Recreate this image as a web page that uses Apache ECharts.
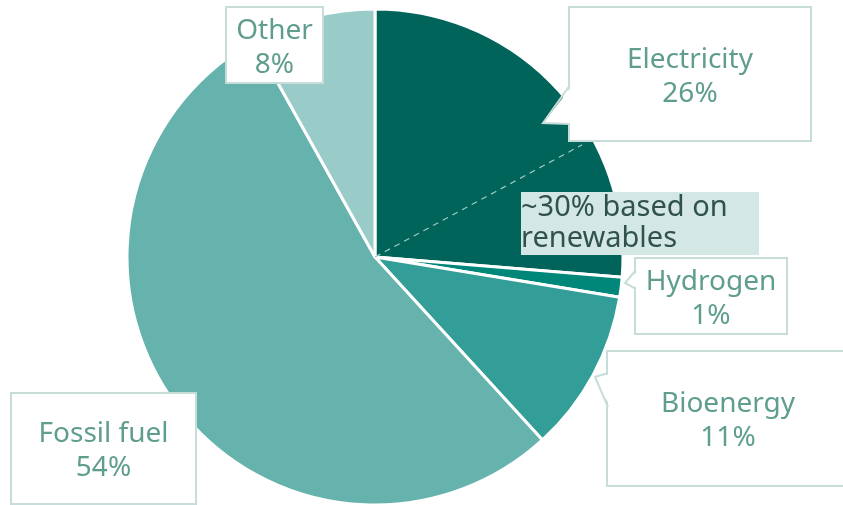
<!DOCTYPE html>
<html>
<head>
<meta charset="utf-8">
<script src="https://cdn.jsdelivr.net/npm/echarts@6/dist/echarts.min.js"></script>
<style>
  html, body { margin: 0; padding: 0; background: #fff; }
  #piechart { width: 843px; height: 505px; }
</style>
</head>
<body>
<div id="piechart"></div>
<script>
// data (clockwise from 12 o'clock)
const categories = ['Electricity', 'Hydrogen', 'Bioenergy', 'Fossil fuel', 'Other']
const shares = [26.3, 1.3, 10.6, 53.7, 8.1]
const sliceColors = ['#00645a', '#00877a', '#339e97', '#66b3ae', '#99ccc9']
const renewableShareOfElectricity = 0.35  // where the dashed split sits
const renewableNote = '~30% based on\nrenewables'

// label boxes: centre x, top y, width, height
const labelBoxes = [
  { cx: 690, top: 8, w: 240, h: 132 },
  { cx: 711, top: 259, w: 150, h: 74 },
  { cx: 728, top: 352, w: 240, h: 133 },
  { cx: 103.5, top: 394, w: 183, h: 109 },
  { cx: 274.5, top: 8, w: 95, h: 74 }
]
// callout pointers: [edge point 1, tip, edge point 2]
const pointers = [
  [[570, 85], [543, 123], [570, 124]],
  [[636, 270], [625, 283], [636, 289]],
  [[608, 373], [595, 377], [608, 407]]
]

const center = [375, 257]
const radius = 248
const lineH = 34
const boxBorder = '#c6ddd9'
const labelColor = '#5f9d8f'

let chart = null
const drawChart = () => {
  chart = echarts.init(document.getElementById('piechart'))

  // dashed split inside the Electricity slice
  const splitDeg = shares[0] / 100 * 360 * (1 - renewableShareOfElectricity)
  const rad = splitDeg * Math.PI / 180
  const endX = center[0] + radius * 0.95 * Math.sin(rad)
  const endY = center[1] - radius * 0.95 * Math.cos(rad)

  const pointerGraphics = []
  pointers.forEach(p => {
    pointerGraphics.push({
      type: 'polygon', z: 100,
      shape: { points: [[p[0][0] + 2, p[0][1] + 1], p[1], [p[2][0] + 2, p[2][1] - 1]] },
      style: { fill: '#fff', stroke: null }
    })
    pointerGraphics.push({
      type: 'polyline', z: 101,
      shape: { points: p },
      style: { stroke: boxBorder, lineWidth: 2, fill: null }
    })
  })

  chart.setOption({
    backgroundColor: '#fff',
    animation: false,
    color: sliceColors,
    graphic: [
      {
        type: 'line', z: 50,
        shape: { x1: center[0], y1: center[1], x2: endX, y2: endY },
        style: { stroke: '#9fcac3', lineWidth: 1.2, lineDash: [6, 5] }
      },
      {
        type: 'rect', z: 50,
        shape: { x: 521, y: 192, width: 238, height: 63 },
        style: { fill: '#d3e7e5' }
      },
      {
        type: 'text', z: 51,
        x: 521, y: 192,
        style: {
          text: renewableNote,
          fill: '#31524c',
          font: '29px "Noto Sans"',
          lineHeight: 31,
          padding: [0, 0, 0, 0]
        }
      }
    ].concat(pointerGraphics),
    series: [
      {
        type: 'pie',
        center: center,
        radius: radius,
        startAngle: 90,
        clockwise: true,
        avoidLabelOverlap: false,
        itemStyle: {
          borderColor: '#fff',
          borderWidth: 3
        },
        label: {
          show: true,
          position: 'inside',
          color: labelColor,
          fontFamily: 'Noto Sans',
          fontSize: 28,
          lineHeight: lineH,
          backgroundColor: '#fff',
          borderColor: boxBorder,
          borderWidth: 2,
          formatter: p => p.name + '\n' + Math.round(p.value) + '%'
        },
        labelLine: { show: false },
        emphasis: { disabled: true },
        labelLayout: params => {
          const b = labelBoxes[params.dataIndex]
          return {
            x: b.cx,
            y: b.top,
            align: 'center',
            verticalAlign: 'top'
          }
        },
        data: categories.map((c, i) => {
          const b = labelBoxes[i]
          const pv = (b.h - 2 * lineH) / 2
          return {
            name: c,
            value: shares[i],
            label: { width: b.w, padding: [pv + 3, 0, pv - 3, 0] }
          }
        })
      }
    ]
  })
}

drawChart()
window.addEventListener('resize', () => { chart && chart.resize() })
</script>
</body>
</html>
